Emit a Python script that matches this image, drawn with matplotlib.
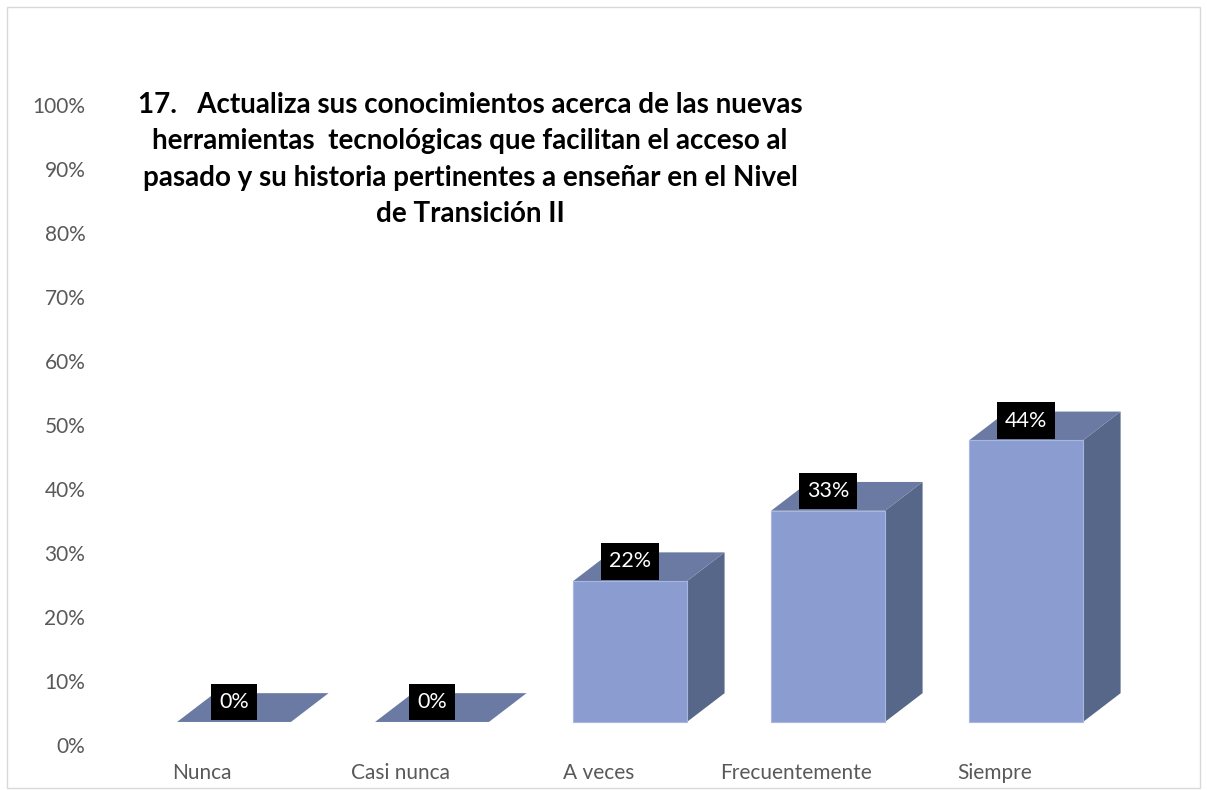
import matplotlib
matplotlib.use("Agg")
import matplotlib.pyplot as plt
from matplotlib.patches import Polygon, Rectangle

plt.rcParams['font.family'] = ['Lato', 'DejaVu Sans']

# data
categorias = ['Nunca', 'Casi nunca', 'A veces', 'Frecuentemente', 'Siempre']
porcentajes = [0, 0, 22, 33, 44]
etiquetas = ['0%', '0%', '22%', '33%', '44%']
titulo = ('17.   Actualiza sus conocimientos acerca de las nuevas\n'
          'herramientas  tecnológicas que facilitan el acceso al\n'
          'pasado y su historia pertinentes a enseñar en el Nivel\n'
          'de Transición II')

# 3d look
base = 3.6       # front floor height
depth_x = 0.19
depth_y = 4.5
ancho = 0.575
c_front = '#8b9cd1'
c_top = '#6a7aa3'
c_side = '#576789'

W, H = 1207, 790
fig = plt.figure(figsize=(W / 100, H / 100), dpi=100)
fig.patches.append(Rectangle((7 / W, 2 / H), 1193 / W, 781 / H, transform=fig.transFigure,
                             fill=False, edgecolor='#d9d9d9', linewidth=1))

ax = fig.add_axes([95 / W, 45 / H, 1095 / W, 640 / H])
ax.set_xlim(-0.702, 4.828)
ax.set_ylim(0, 100)
for s in ax.spines.values():
    s.set_visible(False)

for i, v in enumerate(porcentajes):
    x0, x1 = i - ancho / 2, i + ancho / 2
    y0, y1 = base, base + v
    side = Polygon([(x1, y0), (x1 + depth_x, y0 + depth_y), (x1 + depth_x, y1 + depth_y), (x1, y1)],
                   closed=True, facecolor=c_side, edgecolor='none', clip_on=False)
    top = Polygon([(x0, y1), (x1, y1), (x1 + depth_x, y1 + depth_y), (x0 + depth_x, y1 + depth_y)],
                  closed=True, facecolor=c_top, edgecolor='none', clip_on=False)
    ax.add_patch(side)
    ax.add_patch(top)
    if v > 0:
        ax.add_patch(Rectangle((x0, y0), ancho, v, facecolor=c_front,
                               edgecolor='#a9b6e0', linewidth=0.8, clip_on=False))
    ax.text(i, y1 + 3.1, etiquetas[i], ha='center', va='center', fontsize=15.5, color='white',
            bbox=dict(boxstyle='square,pad=0.38', facecolor='black', edgecolor='none'))

ax.set_yticks(range(0, 101, 10))
ax.set_yticklabels([f'{t}%' for t in range(0, 101, 10)], fontsize=15, color='#595959')
ax.tick_params(axis='y', length=0, pad=7)

ax.set_xticks([i - 0.16 for i in range(len(categorias))])
ax.set_xticklabels(categorias, fontsize=15, color='#595959')
ax.tick_params(axis='x', length=0, pad=13)

fig.text(470 / W, 1 - 92 / H, titulo, ha='center', va='top', fontsize=20,
         fontweight='bold', color='black', linespacing=1.5)

fig.savefig('out.png', dpi=100, facecolor='white')
